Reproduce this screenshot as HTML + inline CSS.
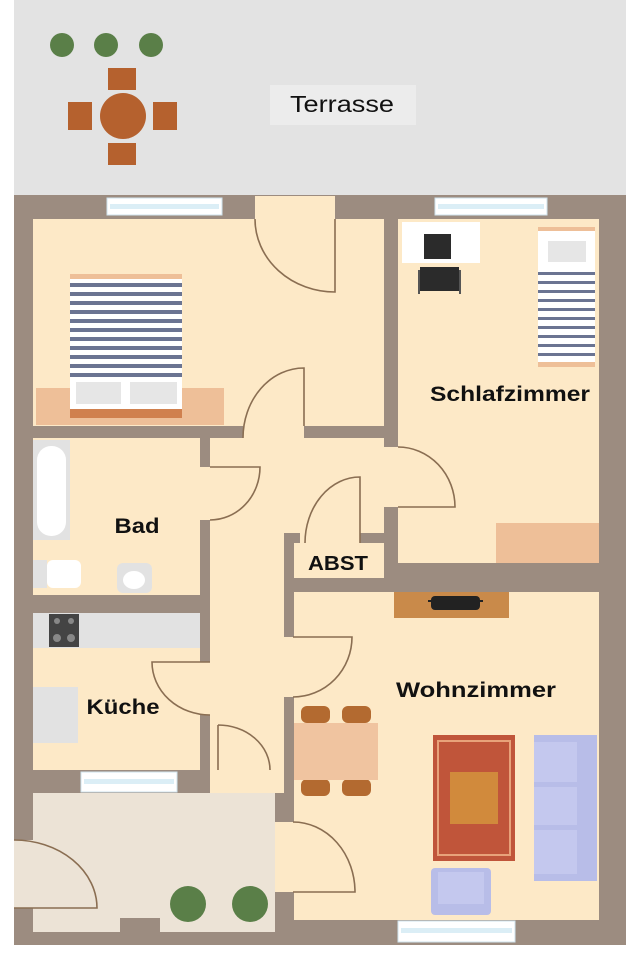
<!DOCTYPE html>
<html><head><meta charset="utf-8"><style>html,body{margin:0;padding:0;background:#fff}svg{display:block}text{font-family:"Liberation Sans",sans-serif;fill:#111}</style></head><body>
<svg width="640" height="960" viewBox="0 0 640 960" xmlns="http://www.w3.org/2000/svg">
<rect x="0" y="0" width="640" height="960" fill="#fff"/>
<rect x="14" y="0" width="612" height="196" fill="#e3e3e3"/>
<rect x="270" y="85" width="146" height="40" fill="#ececec"/>
<text x="342" y="112" font-size="23" text-anchor="middle" textLength="104" lengthAdjust="spacingAndGlyphs">Terrasse</text>
<circle cx="62" cy="45" r="12" fill="#5a7f48"/><circle cx="106" cy="45" r="12" fill="#5a7f48"/><circle cx="151" cy="45" r="12" fill="#5a7f48"/>
<rect x="108" y="68" width="28" height="22" fill="#b5612e"/><rect x="108" y="143" width="28" height="22" fill="#b5612e"/>
<rect x="68" y="102" width="24" height="28" fill="#b5612e"/><rect x="153" y="102" width="24" height="28" fill="#b5612e"/>
<circle cx="123" cy="116" r="23" fill="#b5612e"/>
<rect x="14" y="195" width="612" height="750" fill="#9c8c80"/>
<g fill="#fde9c7">
<rect x="33" y="219" width="351" height="207"/>
<rect x="398" y="219" width="201" height="344"/>
<rect x="33" y="438" width="167" height="157"/>
<rect x="210" y="438" width="174" height="95"/>
<rect x="210" y="438" width="74" height="355"/>
<rect x="294" y="543" width="90" height="35"/>
<rect x="33" y="613" width="167" height="157"/>
<rect x="294" y="592" width="305" height="328"/>
<rect x="255" y="196" width="80" height="24"/>
<rect x="243" y="424" width="61" height="16"/>
<rect x="198" y="467" width="14" height="53"/>
<rect x="382" y="447" width="18" height="60"/>
<rect x="300" y="531" width="60" height="14"/>
<rect x="198" y="662" width="14" height="53"/>
<rect x="282" y="637" width="14" height="60"/>
<rect x="218" y="768" width="52" height="27"/>
</g>
<rect x="33" y="793" width="242" height="139" fill="#ece3d6"/>
<rect x="275" y="822" width="20" height="70" fill="#fde9c7"/>
<rect x="14" y="840" width="20" height="68" fill="#ece3d6"/>
<rect x="120" y="918" width="40" height="16" fill="#9c8c80"/>
<g fill="none" stroke="#8a6e52" stroke-width="1.6">
<path d="M255 219 A80 73 0 0 0 335 292 L335 219"/>
<path d="M243 438 A61 70 0 0 1 304 368 L304 426"/>
<path d="M210 467 L260 467 A50 53 0 0 1 210 520"/>
<path d="M398 447 A57 60 0 0 1 455 507 L398 507"/>
<path d="M360 543 L360 477 A55 66 0 0 0 305 543"/>
<path d="M210 662 L152 662 A58 53 0 0 0 210 715"/>
<path d="M293 637 L352 637 A59 60 0 0 1 293 697"/>
<path d="M218 725 L218 770 M218 725 A52 45 0 0 1 270 770"/>
<path d="M293 822 A62 70 0 0 1 355 892 L293 892"/>
<path d="M14 840 A83 68 0 0 1 97 908 L14 908"/>
</g>
<g fill="#fff" stroke="#cfe3ee" stroke-width="1">
<rect x="107" y="198" width="115" height="17"/>
<rect x="435" y="198" width="112" height="17"/>
<rect x="81" y="772" width="96" height="20"/>
<rect x="398" y="921" width="117" height="21"/>
</g>
<g fill="#dbeef6"><rect x="110" y="204" width="109" height="5"/><rect x="438" y="204" width="106" height="5"/><rect x="84" y="779" width="90" height="5"/><rect x="401" y="928" width="111" height="5"/></g>
<rect x="36" y="388" width="188" height="37" fill="#eebf98"/>
<rect x="70" y="274" width="112" height="144" fill="#fff"/>
<rect x="70" y="274" width="112" height="5" fill="#eebf98"/>
<g fill="#6b7492"><rect x="70" y="283" width="112" height="4"/><rect x="70" y="292" width="112" height="4"/><rect x="70" y="301" width="112" height="4"/><rect x="70" y="310" width="112" height="4"/><rect x="70" y="319" width="112" height="4"/><rect x="70" y="328" width="112" height="4"/><rect x="70" y="337" width="112" height="4"/><rect x="70" y="346" width="112" height="4"/><rect x="70" y="355" width="112" height="4"/><rect x="70" y="364" width="112" height="4"/><rect x="70" y="373" width="112" height="4"/></g>
<rect x="76" y="382" width="45" height="22" fill="#e6e6e6"/><rect x="130" y="382" width="47" height="22" fill="#e6e6e6"/>
<rect x="70" y="409" width="112" height="9" fill="#d0804e"/>
<rect x="402" y="222" width="78" height="41" fill="#fff"/>
<rect x="424" y="234" width="27" height="25" fill="#2b2b2b"/>
<rect x="420" y="267" width="39" height="24" fill="#2b2b2b"/>
<rect x="418" y="270" width="2" height="24" fill="#555"/><rect x="459" y="270" width="2" height="24" fill="#555"/>
<rect x="538" y="227" width="57" height="140" fill="#fff"/>
<rect x="538" y="227" width="57" height="4" fill="#eebf98"/><rect x="538" y="362" width="57" height="5" fill="#eebf98"/>
<rect x="548" y="241" width="38" height="21" fill="#e6e6e6"/>
<g fill="#6b7492"><rect x="538" y="272" width="57" height="3"/><rect x="538" y="281" width="57" height="3"/><rect x="538" y="290" width="57" height="3"/><rect x="538" y="299" width="57" height="3"/><rect x="538" y="308" width="57" height="3"/><rect x="538" y="317" width="57" height="3"/><rect x="538" y="326" width="57" height="3"/><rect x="538" y="335" width="57" height="3"/><rect x="538" y="344" width="57" height="3"/><rect x="538" y="353" width="57" height="3"/></g>
<rect x="496" y="523" width="103" height="40" fill="#eebf98"/>
<rect x="33" y="440" width="37" height="100" fill="#e2e2e2"/>
<rect x="37" y="446" width="29" height="90" rx="14" fill="#fff"/>
<rect x="33" y="560" width="14" height="28" fill="#e2e2e2"/><rect x="47" y="560" width="34" height="28" rx="6" fill="#fff"/>
<rect x="117" y="563" width="35" height="30" rx="6" fill="#e2e2e2"/><ellipse cx="134" cy="580" rx="11" ry="9" fill="#fff"/>
<rect x="33" y="613" width="167" height="35" fill="#e2e2e2"/>
<rect x="49" y="614" width="30" height="33" fill="#444"/>
<g fill="#888"><circle cx="57" cy="621" r="3"/><circle cx="71" cy="621" r="3"/><circle cx="57" cy="638" r="4"/><circle cx="71" cy="638" r="4"/></g>
<rect x="33" y="687" width="45" height="56" fill="#e2e2e2"/>
<rect x="394" y="592" width="115" height="26" fill="#c98a4a"/>
<rect x="428" y="600" width="55" height="2" fill="#222"/>
<rect x="431" y="596" width="49" height="14" rx="4" fill="#222"/>
<g fill="#b36a30"><rect x="301" y="706" width="29" height="17" rx="6"/><rect x="342" y="706" width="29" height="17" rx="6"/><rect x="301" y="779" width="29" height="17" rx="6"/><rect x="342" y="779" width="29" height="17" rx="6"/></g>
<rect x="294" y="723" width="84" height="57" fill="#f0c4a0"/>
<rect x="433" y="735" width="82" height="126" fill="#c0553a"/>
<rect x="438" y="741" width="72" height="114" fill="none" stroke="#e8a27a" stroke-width="2"/>
<rect x="450" y="772" width="48" height="52" fill="#d18a3c"/>
<rect x="534" y="735" width="63" height="146" fill="#b8bde8"/>
<rect x="534" y="742" width="43" height="40" fill="#c4c8ee"/><rect x="534" y="787" width="43" height="38" fill="#c4c8ee"/><rect x="534" y="830" width="43" height="44" fill="#c4c8ee"/>
<rect x="431" y="868" width="60" height="47" rx="4" fill="#b8bde8"/><rect x="438" y="872" width="46" height="32" fill="#c4c8ee"/>
<circle cx="188" cy="904" r="18" fill="#5a7f48"/><circle cx="250" cy="904" r="18" fill="#5a7f48"/>
<g font-weight="bold">
<text x="510" y="401" font-size="21" text-anchor="middle" textLength="160" lengthAdjust="spacingAndGlyphs">Schlafzimmer</text>
<text x="137" y="533" font-size="21" text-anchor="middle" textLength="45" lengthAdjust="spacingAndGlyphs">Bad</text>
<text x="338" y="570" font-size="20" text-anchor="middle" textLength="60" lengthAdjust="spacingAndGlyphs">ABST</text>
<text x="123" y="714" font-size="21" text-anchor="middle" textLength="73" lengthAdjust="spacingAndGlyphs">Küche</text>
<text x="476" y="697" font-size="21" text-anchor="middle" textLength="160" lengthAdjust="spacingAndGlyphs">Wohnzimmer</text>
</g>
</svg>
</body></html>
